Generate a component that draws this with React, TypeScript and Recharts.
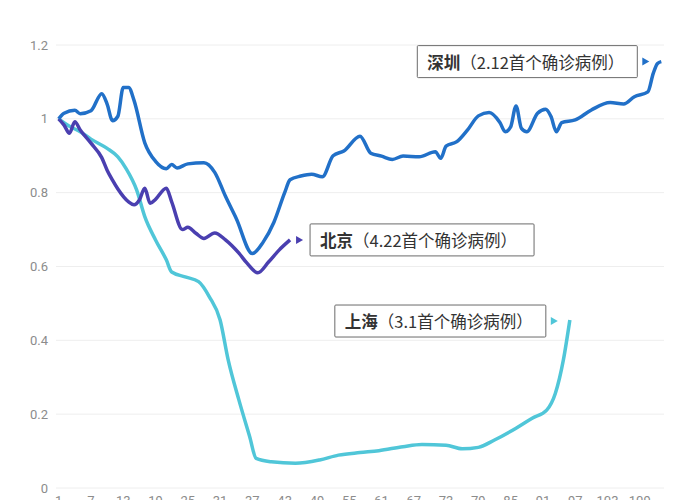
import React from 'react';
import { LineChart, Line, XAxis, YAxis, CartesianGrid } from 'recharts';

if (typeof document !== 'undefined') {
  document.body.style.overflow = 'hidden';
}

const xTicks = [1, 7, 13, 19, 25, 31, 37, 43, 49, 55, 61, 67, 73, 79, 85, 91, 97, 103, 109];
const yTicks = [0, 0.2, 0.4, 0.6, 0.8, 1, 1.2];

const shenzhenDays = [
  1, 2, 4, 5, 7, 9, 10, 11, 12, 13, 14, 15, 17, 19, 21, 22, 23, 25, 28, 30, 32, 34, 37, 39, 41, 43, 44,
  46, 48, 50, 52, 54, 57, 59, 61, 63, 65, 68, 71, 72, 73, 75, 77, 79, 81, 83, 84, 85, 86, 87, 88, 90,
  91.5, 92.5, 93.5, 94.5, 97, 100, 103.5, 106, 108, 110.5, 111.5, 112.3, 113,
];
const shenzhenValues = [
  1.0, 1.015, 1.023, 1.014, 1.022, 1.068, 1.04, 0.995, 1.007, 1.085, 1.085, 1.05, 0.935, 0.885, 0.865,
  0.876, 0.867, 0.878, 0.881, 0.855, 0.79, 0.73, 0.635, 0.666, 0.72, 0.8, 0.835, 0.845, 0.85, 0.843, 0.9,
  0.913, 0.953, 0.907, 0.899, 0.89, 0.899, 0.897, 0.911, 0.893, 0.926, 0.938, 0.97, 1.008, 1.017, 0.99,
  0.965, 0.978, 1.035, 0.974, 0.965, 1.015, 1.026, 1.006, 0.965, 0.99, 0.997, 1.024, 1.044, 1.04, 1.06,
  1.073, 1.123, 1.15, 1.155,
];

const beijingDays = [
  1, 2, 3, 4, 5, 7, 9, 10, 11, 12, 14, 15, 16, 17, 18, 19, 21, 22, 24, 25, 26.5, 28, 30, 32, 34.5, 36, 38,
  40, 42, 44,
];
const beijingValues = [
  1.0, 0.983, 0.961, 0.992, 0.97, 0.934, 0.895, 0.861, 0.834, 0.81, 0.775, 0.767, 0.78, 0.812, 0.771,
  0.782, 0.812, 0.775, 0.7, 0.706, 0.69, 0.676, 0.691, 0.672, 0.636, 0.609, 0.583, 0.612, 0.645, 0.672,
];

const shanghaiDays = [
  1, 3, 5, 7, 10, 12, 13.5, 15.5, 17, 19, 21, 22, 24.5, 27, 29, 31, 32.5, 34.5, 36.5, 37.7, 40.5, 45, 49.5,
  53, 57, 60.5, 65, 68.5, 73, 76, 79, 82, 86, 89, 91.7, 93.3, 94.8, 96,
];
const shanghaiValues = [
  1.0, 0.98, 0.965, 0.945, 0.92, 0.897, 0.866, 0.807, 0.735, 0.672, 0.618, 0.585, 0.572, 0.559, 0.518,
  0.455, 0.347, 0.238, 0.139, 0.08, 0.071, 0.067, 0.076, 0.089, 0.096, 0.101, 0.112, 0.118, 0.116, 0.106,
  0.11, 0.13, 0.162, 0.189, 0.211, 0.256, 0.347, 0.455,
];

const toPoints = (days: number[], values: number[]) => days.map((day, i) => ({ day, v: values[i] }));

const shenzhen = toPoints(shenzhenDays, shenzhenValues);
const beijing = toPoints(beijingDays, beijingValues);
const shanghai = toPoints(shanghaiDays, shanghaiValues);

interface Tag {
  city: string;
  note: string;
  color: string;
  side: 'left' | 'right';
  boxWidth: number;
  dy: number;
}

const makeEndLabel = (tag: Tag, lastIndex: number) => (props: any) => {
  const { x, y, index } = props;
  if (index !== lastIndex || x == null || y == null) return null;
  const cy = y + tag.dy;
  const ax = tag.side === 'left' ? x - 16 : x + 9;
  const boxX = tag.side === 'left' ? x - 24 - tag.boxWidth : x + 20;
  return (
    <g key={`tag-${tag.city}`}>
      <path d={`M${ax - 3},${cy - 4} L${ax + 4},${cy} L${ax - 3},${cy + 4} Z`} fill={tag.color} />
      <rect x={boxX} y={cy - 16} width={tag.boxWidth} height={32} fill="#fff" stroke="#6b6b6b" strokeWidth={1} rx={1} />
      <text
        x={boxX + 10}
        y={cy}
        dominantBaseline="central"
        fontSize={16.5}
        fill="#333"
        fontFamily="'Noto Sans CJK SC', 'Noto Sans', sans-serif"
      >
        <tspan fontWeight="bold">{tag.city}</tspan>
        <tspan>{tag.note}</tspan>
      </text>
    </g>
  );
};

const szTag: Tag = { city: '深圳', note: '（2.12首个确诊病例）', color: '#2170c8', side: 'left', boxWidth: 220, dy: 0 };
const bjTag: Tag = { city: '北京', note: '（4.22首个确诊病例）', color: '#4a3fb0', side: 'right', boxWidth: 224, dy: 0 };
const shTag: Tag = { city: '上海', note: '（3.1首个确诊病例）', color: '#50c6d8', side: 'left', boxWidth: 211, dy: 1 };

const tickStyle = { fontSize: 13, fill: '#8c8c8c', fontFamily: 'Roboto, sans-serif' };

export default function App() {
  return (
    <LineChart width={692} height={520} margin={{ top: 37, right: 36, left: 0, bottom: 0 }}>
      <CartesianGrid vertical={false} stroke="#eeeeee" />
      <XAxis
        dataKey="day"
        type="number"
        domain={[0.5, 113.5]}
        ticks={xTicks}
        tickLine={false}
        axisLine={false}
        height={40}
        tick={tickStyle}
        allowDuplicatedCategory={false}
      />
      <YAxis
        type="number"
        domain={[0, 1.2]}
        ticks={yTicks}
        tickLine={false}
        axisLine={false}
        width={48}
        tick={tickStyle}
      />
      <Line
        data={shanghai}
        dataKey="v"
        type="monotone"
        stroke="#50c6d8"
        strokeWidth={3.5}
        dot={false}
        isAnimationActive={false}
        label={makeEndLabel(shTag, shanghai.length - 1)}
      />
      <Line
        data={beijing}
        dataKey="v"
        type="monotone"
        stroke="#4a3fb0"
        strokeWidth={3.5}
        dot={false}
        isAnimationActive={false}
        label={makeEndLabel(bjTag, beijing.length - 1)}
      />
      <Line
        data={shenzhen}
        dataKey="v"
        type="monotone"
        stroke="#2170c8"
        strokeWidth={3.5}
        dot={false}
        isAnimationActive={false}
        label={makeEndLabel(szTag, shenzhen.length - 1)}
      />
    </LineChart>
  );
}
